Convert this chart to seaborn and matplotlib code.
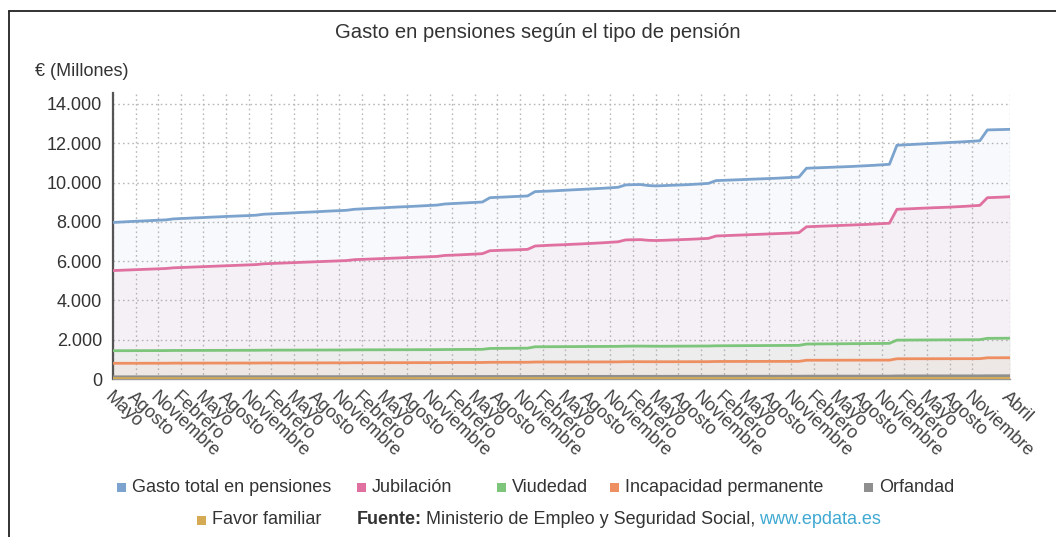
import matplotlib
matplotlib.use("Agg")
import matplotlib.pyplot as plt
import seaborn as sns
import pandas as pd
from matplotlib.patches import Rectangle
from matplotlib.lines import Line2D
from matplotlib.ticker import FuncFormatter

# Meses: mayo 2014 - abril 2024
MESES = {1: "Enero", 2: "Febrero", 3: "Marzo", 4: "Abril", 5: "Mayo", 6: "Junio",
         7: "Julio", 8: "Agosto", 9: "Septiembre", 10: "Octubre", 11: "Noviembre", 12: "Diciembre"}
fechas = pd.date_range("2014-05-01", "2024-04-01", freq="MS")

# Gasto mensual (millones de euros), un año por línea
gasto_total = [
    7970, 7990, 8010, 8030, 8045, 8065, 8085, 8100,
    8150, 8170, 8185, 8205, 8220, 8240, 8255, 8275, 8290, 8305, 8320, 8340,
    8390, 8405, 8425, 8440, 8460, 8480, 8495, 8515, 8535, 8555, 8570, 8590,
    8640, 8660, 8680, 8700, 8720, 8740, 8760, 8775, 8795, 8815, 8835, 8855,
    8910, 8930, 8950, 8970, 8990, 9010, 9230, 9250, 9265, 9285, 9300, 9320,
    9540, 9555, 9570, 9590, 9610, 9630, 9650, 9670, 9690, 9710, 9735, 9760,
    9880, 9895, 9900, 9850, 9830, 9845, 9860, 9875, 9890, 9910, 9935, 9960,
    10100, 10115, 10130, 10145, 10160, 10175, 10190, 10205, 10220, 10240, 10260, 10280,
    10730, 10745, 10760, 10775, 10790, 10805, 10820, 10840, 10860, 10880, 10905, 10930,
    11900, 11920, 11940, 11960, 11980, 12000, 12020, 12040, 12060, 12080, 12105, 12130,
    12680, 12690, 12700, 12710,
]
jubilacion = [
    5520, 5535, 5550, 5565, 5580, 5595, 5610, 5625,
    5660, 5675, 5690, 5705, 5720, 5735, 5750, 5765, 5780, 5795, 5810, 5825,
    5865, 5880, 5895, 5910, 5925, 5940, 5955, 5970, 5985, 6000, 6015, 6030,
    6075, 6090, 6105, 6120, 6135, 6150, 6165, 6180, 6195, 6210, 6225, 6240,
    6290, 6305, 6320, 6340, 6360, 6380, 6530, 6545, 6560, 6570, 6585, 6600,
    6770, 6790, 6810, 6825, 6840, 6860, 6875, 6895, 6915, 6935, 6960, 6985,
    7080, 7090, 7095, 7060, 7050, 7060, 7075, 7090, 7105, 7120, 7140, 7160,
    7280, 7295, 7310, 7325, 7340, 7355, 7370, 7385, 7400, 7415, 7430, 7450,
    7750, 7765, 7780, 7795, 7810, 7825, 7840, 7855, 7870, 7890, 7910, 7930,
    8640, 8655, 8670, 8690, 8705, 8720, 8735, 8750, 8770, 8790, 8815, 8840,
    9230, 9245, 9260, 9280,
]
viudedad = [
    1440, 1441, 1442, 1443, 1444, 1445, 1446, 1447,
    1452, 1453, 1454, 1455, 1456, 1457, 1458, 1459, 1460, 1461, 1462, 1463,
    1468, 1469, 1470, 1471, 1472, 1473, 1474, 1475, 1476, 1477, 1478, 1479,
    1484, 1485, 1486, 1487, 1488, 1489, 1490, 1491, 1492, 1493, 1494, 1495,
    1500, 1502, 1504, 1506, 1508, 1510, 1555, 1558, 1561, 1564, 1567, 1570,
    1640, 1642, 1644, 1646, 1648, 1650, 1652, 1654, 1656, 1658, 1660, 1662,
    1672, 1674, 1675, 1672, 1668, 1668, 1670, 1672, 1674, 1676, 1678, 1680,
    1690, 1692, 1694, 1696, 1698, 1700, 1702, 1704, 1706, 1708, 1710, 1712,
    1780, 1783, 1786, 1789, 1792, 1795, 1798, 1801, 1804, 1807, 1810, 1815,
    1980, 1982, 1984, 1986, 1988, 1990, 1992, 1994, 1996, 1998, 2000, 2002,
    2070, 2072, 2074, 2076,
]
incapacidad = [
    800, 801, 801, 802, 802, 803, 803, 804,
    808, 809, 809, 810, 810, 811, 811, 812, 812, 813, 813, 814,
    818, 819, 819, 820, 820, 821, 821, 822, 822, 823, 823, 824,
    828, 829, 829, 830, 830, 831, 831, 832, 832, 833, 833, 834,
    838, 839, 839, 840, 840, 841, 850, 851, 851, 852, 852, 853,
    865, 866, 866, 867, 867, 868, 868, 869, 869, 870, 870, 871,
    880, 881, 881, 879, 878, 879, 879, 880, 880, 881, 881, 882,
    892, 893, 893, 894, 894, 895, 895, 896, 896, 897, 897, 898,
    955, 956, 956, 957, 957, 958, 958, 959, 959, 960, 960, 961,
    1030, 1031, 1031, 1032, 1032, 1033, 1033, 1034, 1034, 1035, 1035, 1036,
    1080, 1081, 1082, 1083,
]
orfandad = [
    112, 112, 112, 113, 113, 113, 113, 113,
    115, 115, 115, 116, 116, 116, 116, 116, 117, 117, 117, 117,
    119, 119, 119, 119, 120, 120, 120, 120, 120, 121, 121, 121,
    123, 123, 123, 124, 124, 124, 124, 124, 125, 125, 125, 125,
    127, 127, 127, 128, 128, 128, 129, 129, 129, 129, 130, 130,
    133, 133, 133, 134, 134, 134, 134, 135, 135, 135, 135, 135,
    137, 137, 137, 137, 137, 137, 138, 138, 138, 138, 138, 138,
    140, 140, 140, 141, 141, 141, 141, 141, 142, 142, 142, 142,
    146, 146, 146, 147, 147, 147, 147, 147, 148, 148, 148, 148,
    158, 158, 158, 159, 159, 159, 159, 159, 160, 160, 160, 160,
    166, 166, 167, 167,
]
favor_familiar = [
    22, 22, 22, 22, 22, 22, 22, 22,
    23, 23, 23, 23, 23, 23, 23, 23, 23, 23, 23, 23,
    23, 23, 23, 23, 23, 23, 24, 24, 24, 24, 24, 24,
    24, 24, 24, 24, 24, 24, 24, 24, 24, 24, 24, 24,
    25, 25, 25, 25, 25, 25, 25, 25, 25, 25, 25, 25,
    26, 26, 26, 26, 26, 26, 26, 26, 26, 26, 26, 26,
    26, 26, 26, 26, 26, 26, 26, 26, 26, 26, 26, 26,
    27, 27, 27, 27, 27, 27, 27, 27, 27, 27, 27, 27,
    28, 28, 28, 28, 28, 28, 28, 28, 28, 28, 28, 28,
    29, 29, 29, 29, 29, 29, 29, 29, 29, 29, 29, 29,
    30, 30, 30, 30,
]

series = {
    "Gasto total en pensiones": gasto_total,
    "Jubilación": jubilacion,
    "Viudedad": viudedad,
    "Incapacidad permanente": incapacidad,
    "Orfandad": orfandad,
    "Favor familiar": favor_familiar,
}
colores = {
    "Gasto total en pensiones": "#7ba3cd",
    "Jubilación": "#e0709f",
    "Viudedad": "#7cc57a",
    "Incapacidad permanente": "#ee8f62",
    "Orfandad": "#8f8f8f",
    "Favor familiar": "#d4aa55",
}

df = pd.DataFrame(series)
df["idx"] = range(len(fechas))
largo = df.melt(id_vars="idx", var_name="tipo", value_name="valor")

sns.set_style("white")
plt.rcParams["font.family"] = ["Liberation Sans", "DejaVu Sans"]
TXT = "#333333"
FS = 13

W, H = 1056, 537
fig = plt.figure(figsize=(W / 100, H / 100), dpi=100)
ax = fig.add_axes([113 / W, 1 - 379 / H, (1010 - 113) / W, (379 - 93) / H])

# Áreas suaves bajo cada serie
for nombre, vals in series.items():
    ax.fill_between(df["idx"], 0, vals, color=colores[nombre], alpha=0.06, linewidth=0, zorder=1)

sns.lineplot(data=largo, x="idx", y="valor", hue="tipo", hue_order=list(series.keys()),
             palette=colores, linewidth=2, legend=False, ax=ax, zorder=3)

n = len(fechas)
# cada trimestre desde mayo hasta el último noviembre, y el último mes
ticks = list(range(0, n - 5, 3)) + [n - 1]
ax.set_xticks(ticks)
ax.set_xticklabels([MESES[fechas[i].month] for i in ticks])
ax.set_xlim(0, n - 1)
ax.set_ylim(0, 14560)
ax.set_yticks(range(0, 14001, 2000))
ax.yaxis.set_major_formatter(FuncFormatter(lambda v, p: f"{int(v):,}".replace(",", ".")))
ax.set_xlabel("")
ax.set_ylabel("")

ax.grid(True, linestyle=(0, (1.2, 2.2)), color="#b8b8b8", linewidth=1)
ax.set_axisbelow(True)
for s in ["top", "right"]:
    ax.spines[s].set_visible(False)
ax.spines["left"].set_color("#555555")
ax.spines["left"].set_linewidth(1.6)
ax.spines["bottom"].set_color("#999999")
ax.spines["bottom"].set_linewidth(1)

ax.tick_params(axis="y", length=4, width=1, color="#555555", labelsize=FS, labelcolor=TXT, pad=4)
ax.tick_params(axis="x", length=3, width=1.5, color="#333333", labelsize=FS, labelcolor="#444444", pad=4)
plt.setp(ax.get_xticklabels(), rotation=-43, ha="left", va="top", rotation_mode="anchor")

# Títulos
fig.text(538 / W, 1 - 33 / H, "Gasto en pensiones según el tipo de pensión",
         ha="center", va="center", fontsize=14.6, color=TXT)
fig.text(35 / W, 1 - 72 / H, "€ (Millones)", ha="left", va="center", fontsize=FS, color=TXT)

# Leyenda manual
leyenda = [
    ("Gasto total en pensiones", 121, 487),
    ("Jubilación", 361, 487),
    ("Viudedad", 501, 487),
    ("Incapacidad permanente", 614, 487),
    ("Orfandad", 868, 487),
    ("Favor familiar", 201, 520),
]
for nombre, px, py in leyenda:
    fig.add_artist(Rectangle(((px - 4.5) / W, 1 - (py + 4.5) / H), 9 / W, 9 / H,
                             transform=fig.transFigure, color=colores[nombre], lw=0))
    fig.text((px + 11) / W, 1 - py / H, nombre, ha="left", va="center", fontsize=FS, color=TXT)

# Fuente
fig.canvas.draw()
r = fig.canvas.get_renderer()
t1 = fig.text(357 / W, 1 - 520 / H, "Fuente:", ha="left", va="center", fontsize=FS,
              color=TXT, fontweight="bold")
x = t1.get_window_extent(r).x1 + 4
t2 = fig.text(x / W, 1 - 520 / H, "Ministerio de Empleo y Seguridad Social,", ha="left",
              va="center", fontsize=FS, color=TXT)
x = t2.get_window_extent(r).x1 + 4
fig.text(x / W, 1 - 520 / H, "www.epdata.es", ha="left", va="center", fontsize=FS, color="#3fa9d2")

# Marco
fig.add_artist(Line2D([9 / W, 1], [1 - 11 / H] * 2, transform=fig.transFigure, color="#222222", lw=1.3))
fig.add_artist(Line2D([9 / W, 9 / W], [0, 1 - 11 / H], transform=fig.transFigure, color="#222222", lw=1.3))

fig.savefig("out.png", dpi=100)
